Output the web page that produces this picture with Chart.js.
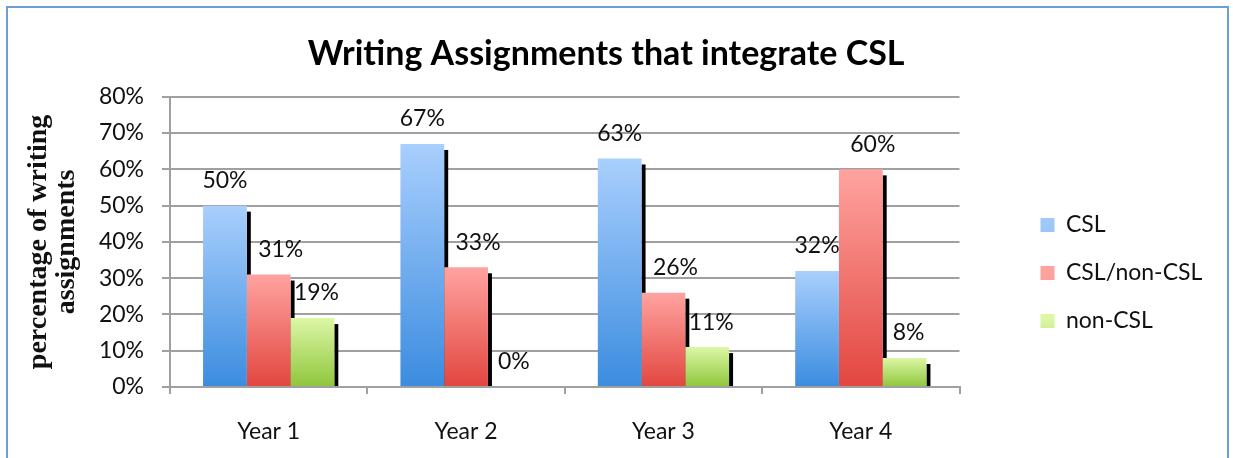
<!DOCTYPE html>
<html>
<head>
<meta charset="utf-8">
<script src="https://cdn.jsdelivr.net/npm/chart.js@4.4.0/dist/chart.umd.min.js"></script>
<style>
    html, body { margin: 0; padding: 0; background: #fff; }
    #frame { position: absolute; left: 6px; top: 6px; width: 1223px; height: 470px; border: 2px solid #6a9fd8; box-sizing: border-box; }
    #wrap { position: absolute; left: 0; top: 0; width: 1233px; height: 458px; }
</style>
</head>
<body>
<div id="frame"></div>
<div id="wrap"><canvas id="chart" width="1233" height="458"></canvas></div>
<script>
const years = ['Year 1', 'Year 2', 'Year 3', 'Year 4'];
const seriesNames = ['CSL', 'CSL/non-CSL', 'non-CSL'];
const cslValues = [50, 67, 63, 32];
const mixedValues = [31, 33, 26, 60];
const nonCslValues = [19, 0, 11, 8];
const yMin = 0;
const yMax = 80;
const yStep = 10;

const labelFont = { family: 'Lato', size: 23 };
// labels sit a little right of the bar centre, clear of the shadow
const labelShift = [0, 12, 4];

// vertical gradient per bar, light at top
function barFill(light, mid, dark) {
    return function (ctx) {
        const chart = ctx.chart;
        if (ctx.type !== 'data' || !chart.chartArea) return mid;
        const y = chart.scales.y;
        const top = y.getPixelForValue(ctx.raw);
        const bottom = y.getPixelForValue(0);
        if (bottom - top < 1) return dark;
        const g = chart.ctx.createLinearGradient(0, top, 0, bottom);
        g.addColorStop(0, light);
        g.addColorStop(1, dark);
        return g;
    };
}

const barShadow = {
    id: 'barShadow',
    beforeDatasetsDraw(chart) {
        const ctx = chart.ctx;
        ctx.save();
        ctx.fillStyle = '#000';
        chart.data.datasets.forEach(function (ds, i) {
            chart.getDatasetMeta(i).data.forEach(function (bar) {
                const h = bar.base - bar.y;
                if (h < 8) return;
                ctx.fillRect(bar.x + bar.width / 2, bar.y + 6, 4, h - 6);
            });
        });
        ctx.restore();
    }
};

const valueLabels = {
    id: 'valueLabels',
    afterDatasetsDraw(chart) {
        const ctx = chart.ctx;
        ctx.save();
        ctx.font = labelFont.size + 'px ' + labelFont.family;
        ctx.fillStyle = '#111';
        ctx.textAlign = 'center';
        ctx.textBaseline = 'middle';
        chart.data.datasets.forEach(function (ds, i) {
            chart.getDatasetMeta(i).data.forEach(function (bar, j) {
                ctx.fillText(ds.data[j] + '%', bar.x + labelShift[i], bar.y - 25);
            });
        });
        ctx.restore();
    }
};

// room for the legend so the plot ends where the reference does
const measure = document.createElement('canvas').getContext('2d');
measure.font = labelFont.size + 'px ' + labelFont.family;
const legendPad = 25;
const legendWidth = legendPad + 14 + labelFont.size + measure.measureText('CSL/non-CSL').width;
const gapRight = 56;
const padRight = Math.max(0, 1233 - 958 - gapRight - legendWidth);

const gridColor = '#a0a0a0';

new Chart(document.getElementById('chart'), {
    type: 'bar',
    data: {
        labels: years,
        datasets: [{
            label: seriesNames[0],
            data: cslValues,
            backgroundColor: barFill('#a9cffd', '#74aeee', '#3b8cdf'),
            borderWidth: 0
        }, {
            label: seriesNames[1],
            data: mixedValues,
            backgroundColor: barFill('#ffa3a0', '#f47a75', '#e2463f'),
            borderWidth: 0
        }, {
            label: seriesNames[2],
            data: nonCslValues,
            backgroundColor: barFill('#dcf7a6', '#bde27a', '#8fc63b'),
            borderWidth: 0
        }]
    },
    options: {
        responsive: false,
        animation: false,
        devicePixelRatio: 1,
        datasets: {
            bar: { categoryPercentage: 0.665, barPercentage: 1.0 }
        },
        layout: { padding: { left: 0, right: padRight, top: 0, bottom: 0 } },
        plugins: {
            title: {
                display: true,
                text: 'Writing Assignments that integrate CSL',
                color: '#000',
                font: { family: 'Lato', size: 34, weight: 'bold', lineHeight: 1.2 },
                padding: { top: 34, bottom: 22 }
            },
            legend: {
                position: 'right',
                align: 'center',
                title: {
                    display: true,
                    text: ' ',
                    font: { size: 20, lineHeight: 1.2 },
                    padding: { top: 32, bottom: 32 }
                },
                labels: {
                    boxWidth: 14,
                    boxHeight: 14,
                    padding: legendPad,
                    color: '#111',
                    font: labelFont
                }
            },
            tooltip: { enabled: false }
        },
        scales: {
            x: {
                grid: { offset: true, drawOnChartArea: false, drawTicks: true, tickLength: 7, color: gridColor, lineWidth: 2 },
                border: { display: true, color: gridColor, width: 2 },
                ticks: { font: labelFont, color: '#111', padding: 24 },
                afterFit: function (s) { s.height = 71; }
            },
            y: {
                min: yMin,
                max: yMax,
                ticks: {
                    stepSize: yStep,
                    font: labelFont,
                    color: '#111',
                    padding: 18,
                    callback: function (v) { return v + '%'; }
                },
                grid: { color: gridColor, lineWidth: 2, tickLength: 8 },
                border: { color: gridColor, width: 2 },
                title: {
                    display: true,
                    text: ['percentage of writing', 'assignments'],
                    color: '#111',
                    font: { family: 'Liberation Serif', size: 28, weight: 'bold', lineHeight: 1.0 },
                    padding: { top: 25, bottom: 0 }
                },
                afterFit: function (s) { s.width = 170; }
            },
            spacer: {
                type: 'linear',
                position: 'right',
                grid: { display: false },
                border: { display: false },
                ticks: { display: false },
                afterFit: function (s) { s.width = gapRight; }
            }
        }
    },
    plugins: [barShadow, valueLabels]
});
</script>
</body>
</html>
